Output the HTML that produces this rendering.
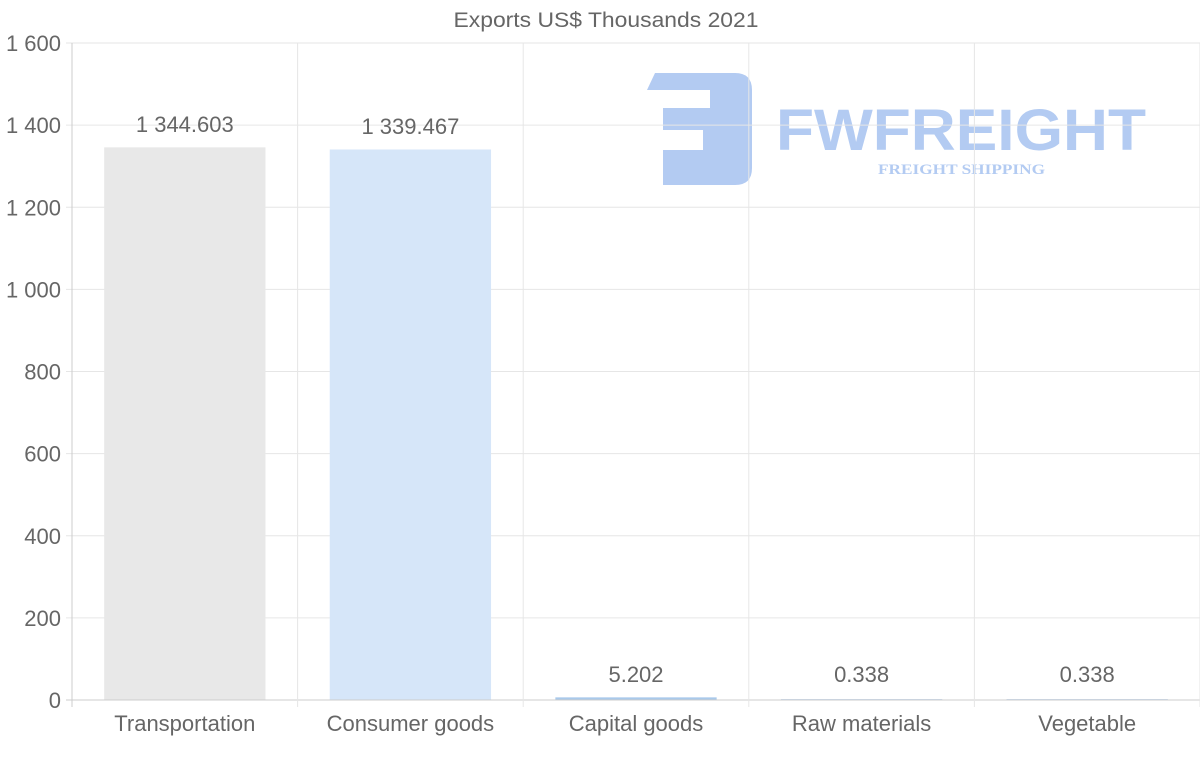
<!DOCTYPE html>
<html><head><meta charset="utf-8"><style>
body{margin:0;background:#fff;}
svg text{font-family:"Liberation Sans",Arial,sans-serif;}
</style></head><body>
<svg id="chart" width="1200" height="763" xmlns="http://www.w3.org/2000/svg">
<g id="logo">
  <path d="M655 73 L735 73 Q752 73 752 90 L752 168 Q752 185 735 185 L663 185 L663 150 L703 150 L703 130 L663 130 L663 108 L710 108 L710 90 L647 90 Z" fill="#b3cbf2"/>
  <text x="776" y="150" font-size="58" font-weight="bold" fill="#b3cbf2" textLength="370" lengthAdjust="spacingAndGlyphs">FWFREIGHT</text>
  <text x="878" y="174" font-size="15" font-weight="bold" fill="#b3cbf2" style="font-family:'Liberation Serif',serif" textLength="167" lengthAdjust="spacingAndGlyphs">FREIGHT SHIPPING</text>
</g>
<g id="grid"></g><g id="bars"></g><g id="labels"></g>
<text x="606" y="27" text-anchor="middle" font-size="21" fill="#666" textLength="305" lengthAdjust="spacingAndGlyphs">Exports US$ Thousands 2021</text>
</svg>
<script>
const categories=["Transportation","Consumer goods","Capital goods","Raw materials","Vegetable"];
const values=[1344.603,1339.467,5.202,0.338,0.338];
const valueLabels=["1 344.603","1 339.467","5.202","0.338","0.338"];
const yTicks=[0,200,400,600,800,1000,1200,1400,1600];
const yTickLabels=["0","200","400","600","800","1 000","1 200","1 400","1 600"];
const colors=["#e8e8e8","#d6e6f9","#a9c9ea","#c9daf0","#c9daf0"];
const NS="http://www.w3.org/2000/svg";
const L=72,R=1200,T=43,B=700;
const y=v=>B-(v/1600)*(B-T);
const bw=(R-L)/categories.length;
const x=i=>L+i*bw;
function mk(t,a,p){const e=document.createElementNS(NS,t);for(const k in a)e.setAttribute(k,a[k]);p.appendChild(e);return e;}
const g=document.getElementById('grid'),bg=document.getElementById('bars'),lg=document.getElementById('labels');
yTicks.forEach((t,i)=>{
 const ln=mk('line',{x1:L-6,x2:R,y1:y(t),y2:y(t),stroke:t===0?'#ccc':'#e6e6e6'},g);
 
 const tx=mk('text',{x:L-11,y:y(t)+8,'text-anchor':'end','font-size':22,fill:'#666'},g);
 tx.textContent=yTickLabels[i];
 
});
for(let i=0;i<=categories.length;i++){
 const ln=mk('line',{x1:x(i),x2:x(i),y1:T,y2:B+7,stroke:i===0?'#ccc':'#e6e6e6'},g);
 
}
categories.forEach((c,i)=>{
 const w=bw*0.715,cx=x(i)+bw/2;
 const h=Math.max(B-y(values[i]),0.5);
 const r=mk('rect',{x:cx-w/2,y:B-h-0.5,width:w,height:h,fill:colors[i]},bg);
 
 const vt=mk('text',{x:cx,y:Math.min(y(values[i]),B-2)-16,'text-anchor':'middle','font-size':22,fill:'#666'},lg);
 vt.textContent=valueLabels[i];
 
 const ct=mk('text',{x:cx,y:731,'text-anchor':'middle','font-size':22,fill:'#666'},lg);
 ct.textContent=c;
 
});
</script>
</body></html>
